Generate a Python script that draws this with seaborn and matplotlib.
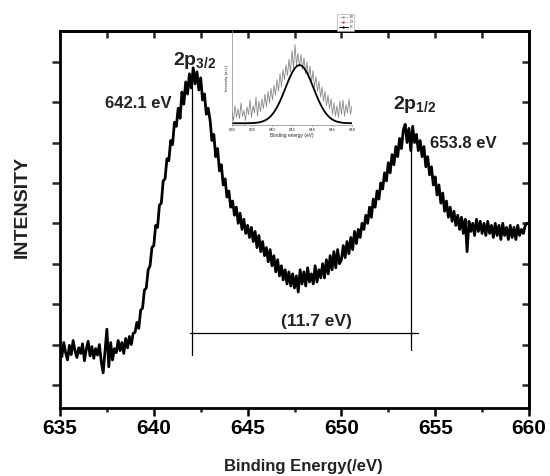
import numpy as np
import pandas as pd
import matplotlib
matplotlib.use("Agg")
import matplotlib.pyplot as plt
from matplotlib.lines import Line2D
import seaborn as sns

# ---------------- data ----------------
energy_start, energy_step = 635.0, 0.1
intensity = [
    1.95, 1.70, 2.05, 1.80, 1.62, 1.98, 1.75, 2.10, 1.85, 1.68,
    1.92, 1.78, 2.02, 1.60, 1.88, 2.08, 1.72, 1.95, 1.66, 1.90,
    1.74, 2.00, 1.58, 1.30, 1.83, 2.38, 1.45, 2.05, 1.62, 1.90,
    1.80, 2.10, 1.85, 2.05, 1.78, 2.15, 1.92, 2.20, 2.00, 2.28,
    2.30, 2.55, 2.40, 2.85, 2.90, 3.35, 3.40, 3.85, 3.95, 4.40,
    4.45, 4.95, 4.90, 5.45, 5.50, 6.05, 6.10, 6.60, 6.55, 7.05,
    6.95, 7.50, 7.40, 7.85, 7.60, 8.25, 7.95, 8.50, 8.20, 8.70,
    8.35, 8.85, 8.45, 8.75, 8.30, 8.60, 8.05, 8.20, 7.70, 7.85,
    7.55, 7.05, 7.20, 6.65, 6.85, 6.30, 6.45, 5.95, 6.10, 5.65,
    5.80, 5.40, 5.55, 5.20, 5.40, 5.00, 5.25, 4.85, 5.10, 4.75,
    4.95, 4.65, 4.90, 4.55, 4.80, 4.40, 4.70, 4.30, 4.55, 4.20,
    4.40, 4.05, 4.35, 3.95, 4.20, 3.80, 4.10, 3.70, 3.95, 3.60,
    3.85, 3.50, 3.80, 3.45, 3.75, 3.40, 3.70, 3.30, 3.85, 3.50,
    3.80, 3.45, 3.90, 3.55, 3.75, 3.50, 3.95, 3.55, 3.85, 3.65,
    4.00, 3.65, 4.10, 3.75, 4.20, 3.85, 4.30, 3.90, 4.35, 4.00,
    4.10, 4.45, 4.15, 4.55, 4.25, 4.65, 4.35, 4.80, 4.50, 4.85,
    4.65, 5.00, 4.85, 5.20, 5.00, 5.40, 5.15, 5.60, 5.40, 5.80,
    5.60, 6.00, 5.85, 6.25, 6.05, 6.50, 6.25, 6.70, 6.45, 6.90,
    6.65, 7.10, 6.85, 7.30, 7.45, 7.00, 7.35, 6.80, 7.40, 7.00,
    7.20, 6.80, 7.05, 6.65, 6.90, 6.40, 6.65, 6.20, 6.40, 5.95,
    6.15, 5.70, 5.95, 5.50, 5.75, 5.30, 5.55, 5.15, 5.40, 5.05,
    5.30, 4.95, 5.20, 4.85, 5.15, 4.75, 5.10, 4.30, 5.05, 4.80,
    5.00, 4.70, 5.10, 4.80, 5.05, 4.75, 5.00, 4.70, 5.05, 4.75,
    4.95, 4.65, 5.00, 4.70, 4.95, 4.60, 5.00, 4.70, 4.90, 4.60,
    4.95, 4.65, 4.90, 4.60, 4.95, 4.70, 4.85, 4.75, 4.95, 5.00,
]
energy = np.round(energy_start + energy_step * np.arange(len(intensity)), 2)

x_ticks = [635, 640, 645, 650, 655, 660]
x_tick_labels = ["635", "640", "645", "650", "655", "660"]

# peak markers
peak1_energy, peak1_top = 642.05, 8.55
peak2_energy, peak2_top = 653.7, 7.10
drop1_bottom, drop2_bottom = 1.74, 1.87
split_level = 2.29
split_start, split_end = 641.93, 654.08
peak_labels = ["642.1 eV", "653.8 eV"]
split_label = "(11.7 eV)"

# inset data
inset_start, inset_step = 636.0, 0.15
inset_raw = [
    0.20, 0.05, 0.30, 0.10, 0.25, 0.08, 0.35, 0.12, 0.22, 0.05,
    0.28, 0.15, 0.40, 0.10, 0.30, 0.18, 0.45, 0.12, 0.38, 0.20,
    0.42, 0.25, 0.50, 0.28, 0.55, 0.35, 0.60, 0.40, 0.65, 0.48,
    0.75, 0.55, 0.85, 0.62, 0.92, 0.75, 1.00, 0.82, 1.10, 0.88,
    1.25, 0.95, 1.35, 1.00, 1.20, 0.98, 1.18, 0.92, 1.12, 0.85,
    1.05, 0.78, 0.98, 0.70, 0.90, 0.62, 0.80, 0.55, 0.72, 0.45,
    0.62, 0.38, 0.55, 0.30, 0.48, 0.25, 0.42, 0.15, 0.35, 0.12,
    0.30, 0.10, 0.38, 0.15, 0.40, 0.12, 0.32, 0.18, 0.42, 0.15,
    0.30,
]
inset_energy = np.round(inset_start + inset_step * np.arange(len(inset_raw)), 2)

fit_start, fit_step = 636.0, 0.25
inset_fit = [
    0.000, 0.000, 0.000, 0.000, 0.000, 0.000, 0.001, 0.002, 0.003, 0.006,
    0.010, 0.017, 0.028, 0.044, 0.068, 0.101, 0.145, 0.203, 0.275, 0.360,
    0.458, 0.563, 0.671, 0.775, 0.866, 0.938, 0.984, 1.000, 0.984, 0.938,
    0.866, 0.775, 0.671, 0.563, 0.458, 0.360, 0.275, 0.203, 0.145, 0.101,
    0.068, 0.044, 0.028, 0.017, 0.010, 0.006, 0.003, 0.002, 0.001,
]
fit_energy = np.round(fit_start + fit_step * np.arange(len(inset_fit)), 2)
inset_ticks = [636, 638, 640, 642, 644, 646, 648]
legend_labels = ["B", "D", "E"]

# ---------------- style ----------------
sns.set_theme(style="ticks")
plt.rcParams["font.family"] = ["Liberation Sans", "DejaVu Sans"]
plt.rcParams["mathtext.fontset"] = "custom"
plt.rcParams["mathtext.rm"] = "Liberation Sans"
plt.rcParams["mathtext.bf"] = "Liberation Sans:bold"

fig = plt.figure(figsize=(5.5, 4.76), dpi=100)
fig.patch.set_facecolor("white")
ax = fig.add_axes([60 / 550, 1 - 408 / 476, 469 / 550, 377 / 476])
ax.set_facecolor("white")

df = pd.DataFrame({"energy": energy, "intensity": intensity})
sns.lineplot(data=df, x="energy", y="intensity", ax=ax, color="black",
             linewidth=2.0, estimator=None, sort=False, zorder=3)

# guide lines
ax.plot([peak1_energy, peak1_energy], [drop1_bottom, peak1_top], color="black", lw=0.9, zorder=2)
ax.plot([peak2_energy, peak2_energy], [drop2_bottom, peak2_top], color="black", lw=0.9, zorder=2)
ax.plot([split_start, split_end], [split_level, split_level], color="black", lw=0.9, zorder=2)

ax.set_xlim(635, 660)
ax.set_ylim(0.43, 9.76)
ax.set_xticks(x_ticks)
ax.set_xticklabels(x_tick_labels, fontweight="bold", fontsize=15)
ax.set_xticks(np.arange(635, 661, 2.5), minor=True)
ax.set_yticks(np.arange(1, 10, 1))
ax.set_yticklabels([])
ax.set_xlabel("")
ax.set_ylabel("")
ax.tick_params(axis="x", which="major", direction="out", length=6, width=1.8, pad=2, colors="black")
ax.tick_params(axis="x", which="minor", direction="out", length=3, width=1.8)
ax.tick_params(axis="y", which="major", direction="out", length=6, width=1.8)
for s in ax.spines.values():
    s.set_linewidth(2.0)
    s.set_color("black")

top = ax.secondary_xaxis("top")
top.set_xticks(np.arange(635, 661, 2.5))
top.set_xticklabels([])
top.tick_params(direction="in", length=5, width=1.8)
top.spines["top"].set_linewidth(2.0)
right = ax.secondary_yaxis("right")
right.set_yticks(np.arange(1, 10, 1))
right.set_yticklabels([])
right.tick_params(direction="in", length=5, width=1.8)
right.spines["right"].set_linewidth(2.0)

# labels
fig.text(303 / 550, 1 - 466 / 476, "Binding Energy(/eV)", ha="center", va="center",
         fontsize=12, fontweight="bold", color="#222222")
fig.text(22 / 550, 1 - 207 / 476, "INTENSITY", ha="center", va="center", rotation=90,
         fontsize=14, fontweight="bold", color="#222222")

ax.text(641.02, 8.92, r"$\mathbf{2p}_{\mathbf{3/2}}$", fontsize=14, ha="left", va="baseline", color="#222222")
ax.text(652.75, 7.83, r"$\mathbf{2p}_{\mathbf{1/2}}$", fontsize=14, ha="left", va="baseline", color="#222222")
ax.text(637.40, 7.86, peak_labels[0], fontsize=12, fontweight="bold", ha="left", va="baseline", color="#222222")
ax.text(654.72, 6.87, peak_labels[1], fontsize=12, fontweight="bold", ha="left", va="baseline", color="#222222")
ax.text(648.67, 2.46, split_label, fontsize=12.5, fontweight="bold", ha="center", va="baseline", color="#222222")

# ---------------- inset ----------------
axi = fig.add_axes([232 / 550, 1 - 125 / 476, 120 / 550, 95 / 476])
axi.set_facecolor("none")
dfi = pd.DataFrame({"energy": inset_energy, "intensity": inset_raw})
dff = pd.DataFrame({"energy": fit_energy, "intensity": inset_fit})
sns.lineplot(data=dfi, x="energy", y="intensity", ax=axi, color="#8a8a8a",
             linewidth=0.6, estimator=None, sort=False)
sns.lineplot(data=dff, x="energy", y="intensity", ax=axi, color="#d04040",
             linewidth=0.6, linestyle=":", estimator=None, sort=False)
sns.lineplot(data=dff, x="energy", y="intensity", ax=axi, color="black",
             linewidth=1.3, estimator=None, sort=False)
axi.set_xlim(636, 648)
axi.set_ylim(-0.03, 1.6)
axi.set_xticks(inset_ticks)
axi.set_xticklabels([str(t) for t in inset_ticks], fontsize=3)
axi.set_yticks([])
axi.tick_params(axis="x", length=1, width=0.4, pad=1)
axi.set_xlabel("Binding energy (eV)", fontsize=3.5, labelpad=1)
axi.set_ylabel("Intensity (a.u.)", fontsize=3, labelpad=2)
axi.spines["top"].set_visible(False)
axi.spines["right"].set_visible(False)
axi.spines["left"].set_linewidth(0.5)
axi.spines["left"].set_color("#888888")
axi.spines["bottom"].set_linewidth(0.5)
axi.spines["bottom"].set_color("#888888")

handles = [
    Line2D([], [], color="#9a9a9a", lw=0.5, ls="--", marker=".", markersize=1.5),
    Line2D([], [], color="#d04040", lw=0.5, ls=":", marker=".", markersize=1.5),
    Line2D([], [], color="black", lw=0.7, ls="-", marker=".", markersize=1.5),
]
leg = axi.legend(handles, legend_labels, loc="upper right",
                 bbox_to_anchor=(356 / 550, 1 - 12 / 476), bbox_transform=fig.transFigure,
                 fontsize=3, frameon=True, fancybox=False, framealpha=1,
                 edgecolor="#999999", handlelength=2.2, borderpad=0.3,
                 labelspacing=0.25, handletextpad=0.4)
leg.get_frame().set_linewidth(0.4)

fig.savefig("out.png", dpi=100)
